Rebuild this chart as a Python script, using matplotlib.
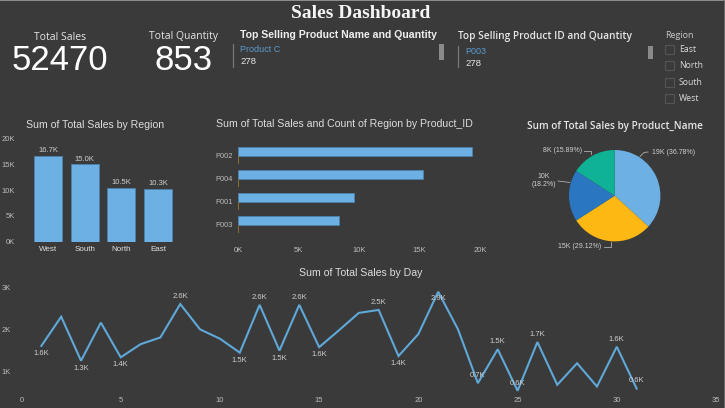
import matplotlib
matplotlib.use("Agg")
import matplotlib.pyplot as plt
from matplotlib.patches import Rectangle

W, H = 725, 408
BG = "#3a3a3a"
BLUE = "#6cb0e4"
LINE_BLUE = "#5fa8d8"
TXT = "#e6e6e6"
TICK = "#bdbdbd"

regions = ["West", "South", "North", "East"]
region_sales = [16700, 15000, 10500, 10300]
region_labels = ["16.7K", "15.0K", "10.5K", "10.3K"]

product_ids = ["P002", "P004", "P001", "P003"]
product_sales = [19298, 15279, 9550, 8337]
region_counts = [100, 100, 100, 100]

pie_labels = ["19K (36.78%)", "15K (29.12%)", "10K\n(18.2%)", "8K (15.89%)"]
pie_colors = ["#6cb0e4", "#fdb813", "#2a76c0", "#0fb294"]

days = list(range(1, 32))
day_sales = [1610, 2300, 1260, 2160, 1340, 1650, 1810, 2600, 2000, 1780, 1450,
             2580, 1500, 2580, 1580, 1980, 2390, 2460, 1370, 1890, 2890, 2000,
             730, 1530, 550, 1700, 690, 1200, 650, 1590, 600]
# day: (text, above or below)
day_labels = {1: ("1.6K", -1), 3: ("1.3K", -1), 5: ("1.4K", -1), 8: ("2.6K", 1),
              11: ("1.5K", -1), 12: ("2.6K", 1), 13: ("1.5K", -1), 14: ("2.6K", 1),
              15: ("1.6K", -1), 18: ("2.5K", 1), 19: ("1.4K", -1), 21: ("2.9K", 0),
              23: ("0.7K", 1), 24: ("1.5K", 1), 25: ("0.6K", 1), 26: ("1.7K", 1),
              30: ("1.6K", 1), 31: ("0.6K", 1)}

slicer_items = ["East", "North", "South", "West"]


def k_fmt(v, pos=None):
    return "%dK" % (v / 1000)


def axes_px(left, top, right, bottom):
    a = fig.add_axes([left / W, 1 - bottom / H, (right - left) / W, (bottom - top) / H])
    a.set_facecolor("none")
    for s in a.spines.values():
        s.set_visible(False)
    a.tick_params(length=0, labelsize=5.5, labelcolor=TICK)
    return a


plt.rcParams["font.family"] = ["Liberation Sans", "DejaVu Sans"]
fig = plt.figure(figsize=(W / 100, H / 100), dpi=100, facecolor=BG)

# overlay for the texts and frame, in pixels
ov = axes_px(0, 0, W, H)
ov.set_xlim(0, W)
ov.set_ylim(H, 0)
ov.axis("off")
ov.add_patch(Rectangle((0, 0), W, 1.2, color="#8c8c8c", lw=0))
ov.add_patch(Rectangle((W - 1, 0), 1, H, color="#6a6a6a", lw=0))


def label(x, y, s, size, ha="center", color=TXT, weight="normal", family="Liberation Sans"):
    ov.text(x, y, s, fontsize=size, ha=ha, va="center", color=color, weight=weight, family=family)


label(361, 14, "Sales Dashboard", 14, weight="bold", family="Liberation Serif", color="#f5f5f5")
label(60, 37, "Total Sales", 7.5, family="Open Sans")
label(60, 60, "52470", 25, color="white")
label(184, 37, "Total Quantity", 7.5, family="Open Sans")
label(184, 60, "853", 25, color="white")

label(240, 35, "Top Selling Product Name and Quantity", 7.6, ha="left", weight="bold", color="#eeeeee")
label(240, 49, "Product C", 6.5, ha="left", color="#5b9bd0")
label(240, 61, "278", 6.8, ha="left")
label(458, 37, "Top Selling Product ID and Quantity", 7.3, ha="left", family="Open Sans", weight="semibold")
label(465, 51, "P003", 6.5, ha="left", color="#5b9bd0")
label(465, 63, "278", 6.8, ha="left")
ov.plot([233.5, 233.5], [44, 66.5], color="#777777", lw=0.9)
ov.plot([458.5, 458.5], [46, 67], color="#777777", lw=0.9)
ov.add_patch(Rectangle((439, 43.7), 4.7, 16.3, color="#8a8a8a", lw=0))
ov.add_patch(Rectangle((648.3, 46), 4.7, 13, color="#8a8a8a", lw=0))

label(665, 35, "Region", 6.5, ha="left", family="Open Sans", color="#c8c8c8")
for i, item in enumerate(slicer_items):
    y = 49.5 + i * 16.4
    ov.add_patch(Rectangle((665.5, y - 4.5), 9, 9, fc="none", ec="#555555", lw=0.8))
    label(679, y, item, 6.3, ha="left", family="Open Sans", color="#d8d8d8")

label(95, 125, "Sum of Total Sales by Region", 7.6, color="#dddddd")
label(344, 124, "Sum of Total Sales and Count of Region by Product_ID", 7.6, color="#dddddd")
label(615, 127, "Sum of Total Sales by Product_Name", 7.2, family="Open Sans", weight="semibold")
label(361, 273, "Sum of Total Sales by Day", 7.6, color="#dddddd")

# region bars
ax1 = axes_px(28, 138.7, 178, 241.7)
ax1.bar(range(len(regions)), region_sales, width=0.76, color=BLUE, edgecolor="#4d83ad", linewidth=0.6)
ax1.set_xlim(-0.545, 3.54)
ax1.set_ylim(0, 20000)
ax1.set_yticks([0, 5000, 10000, 15000, 20000])
ax1.yaxis.set_major_formatter(k_fmt)
ax1.tick_params(axis="y", pad=9.5)
ax1.tick_params(axis="x", pad=3)
ax1.set_xticks(range(len(regions)))
ax1.set_xticklabels(regions, color="#e0e0e0", fontsize=5.8)
for i, v in enumerate(region_sales):
    ax1.text(i, v + 1000, region_labels[i], ha="center", va="center", fontsize=5.5, color="#cfcfcf")

# product bars, brown one under each blue one
ax2 = axes_px(238, 144.2, 480, 236.2)
ypos = list(range(len(product_ids)))
ax2.barh([y - 0.19 for y in ypos], product_sales, height=0.38, color=BLUE, edgecolor="#4d83ad", linewidth=0.6)
ax2.barh([y + 0.19 for y in ypos], region_counts, height=0.38, color="#8c6d30", linewidth=0)
ax2.set_ylim(3.5, -0.5)
ax2.set_xlim(0, 20000)
ax2.set_yticks(ypos)
ax2.set_yticklabels(product_ids, fontsize=5.3)
ax2.set_xticks([0, 5000, 10000, 15000, 20000])
ax2.xaxis.set_major_formatter(k_fmt)
ax2.tick_params(axis="x", pad=8)
ax2.tick_params(axis="y", pad=4)

# pie
ax3 = axes_px(614.7 - 45.7, 195.7 - 45.7, 614.7 + 45.7, 195.7 + 45.7)
ax3.pie(product_sales, colors=pie_colors, startangle=90, counterclock=False, radius=1.0,
        wedgeprops={"linewidth": 0})
ax3.set_xlim(-1, 1)
ax3.set_ylim(-1, 1)
pie_text = [(652, 152, "left"), (601, 247, "right"), (544, 181, "center"), (582, 150, "right")]
pie_leads = [([640, 644, 648], [156.5, 152.5, 152]), ([611, 611, 604], [241.5, 247, 247]),
             ([570, 562, 558], [182.5, 181.5, 181]), ([591.5, 591.5, 584], [153.5, 150.5, 150.5])]
for s, (x, y, ha), (lx, ly) in zip(pie_labels, pie_text, pie_leads):
    ov.text(x, y, s, fontsize=5.0, ha=ha, va="center", color="#cfcfcf", linespacing=1.2)
    ov.plot(lx, ly, color="#b0b0b0", lw=0.6)

# day line
ax4 = axes_px(21.5, 280, 716, 393)
ax4.plot(days, day_sales, color=LINE_BLUE, lw=1.5, solid_joinstyle="miter")
ax4.set_xlim(0, 35)
ax4.set_ylim(1000 - (393 - 371.7) / 42.3 * 1000, 1000 + (371.7 - 280) / 42.3 * 1000)
ax4.set_xticks(range(0, 36, 5))
ax4.set_yticks([1000, 2000, 3000])
ax4.yaxis.set_major_formatter(k_fmt)
ax4.tick_params(axis="y", pad=7.5)
ax4.tick_params(axis="x", pad=3)
for d, (s, side) in day_labels.items():
    off = {1: 5.5, -1: -5.5, 0: -5}[side]
    ax4.annotate(s, (d, day_sales[d - 1]), xytext=(0, off), textcoords="offset points",
                 ha="center", va="center", fontsize=5.5, color="#cfcfcf")

fig.savefig("out.png", dpi=100, facecolor=BG)
